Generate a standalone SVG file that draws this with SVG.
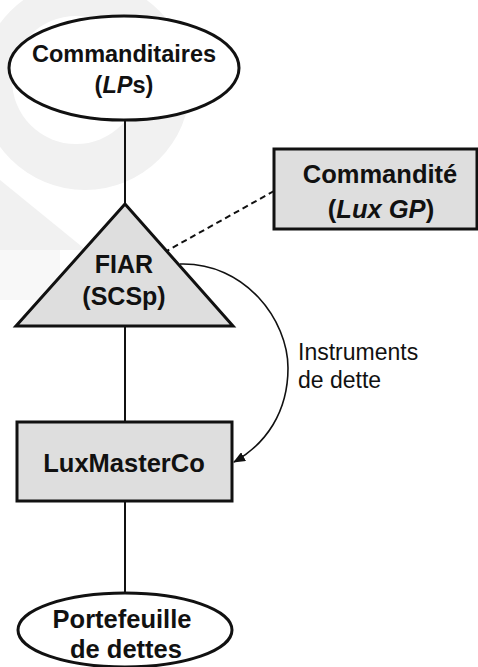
<svg xmlns="http://www.w3.org/2000/svg" width="478" height="667" viewBox="0 0 478 667">
  <style>
    .node { fill: #dedede; stroke: #111; stroke-width: 3; }
    .oval { fill: #fff; stroke: #111; stroke-width: 3; }
    .lbl { font-family: "Liberation Sans", Arial, sans-serif; font-weight: bold; fill: #111; text-anchor: middle; }
    .note { font-family: "Liberation Sans", Arial, sans-serif; fill: #111; font-size: 23px; }
    .link { stroke: #111; stroke-width: 2; fill: none; }
    .dash { stroke: #111; stroke-width: 2; fill: none; stroke-dasharray: 6 4; }
    .flow { stroke: #111; stroke-width: 1.6; fill: none; }
    .wm { fill: #f1f1f1; }
  </style>
  <defs>
    <marker id="arrow" viewBox="0 0 12 10" refX="11" refY="5" markerWidth="12" markerHeight="10" markerUnits="userSpaceOnUse" orient="auto">
      <path d="M0,0 L12,5 L0,10 z" fill="#111"/>
    </marker>
  </defs>
  <rect width="478" height="667" fill="#fff"/>

  <!-- faint background logo -->
  <g id="backdrop">
    <circle class="wm" cx="85" cy="85" r="105"/>
    <circle cx="76" cy="80" r="64" fill="#fff"/>
    <polygon class="wm" points="0,180 86,250 0,250"/>
    <rect x="0" y="250" width="60" height="50" fill="#f8f8f8"/>
  </g>

  <!-- connectors -->
  <g id="connectors">
    <line class="link" x1="125" y1="120" x2="125" y2="204"/>
    <line class="link" x1="125" y1="326" x2="125" y2="422"/>
    <line class="link" x1="125" y1="501" x2="125" y2="593"/>
    <line class="dash" x1="274" y1="191" x2="163" y2="253"/>
    <path class="flow" d="M180,264 C245,262 288,320 288,368 C288,412 266,444 234,462" marker-end="url(#arrow)"/>
    <text class="note" x="298" y="360">Instruments</text>
    <text class="note" x="298" y="388">de dette</text>
  </g>

  <g id="lps">
    <ellipse class="oval" cx="124" cy="68" rx="115" ry="52"/>
    <text class="lbl" x="124" y="62" font-size="23.5">Commanditaires</text>
    <text class="lbl" x="124" y="93" font-size="23.5">(<tspan font-style="italic">LP</tspan>s)</text>
  </g>

  <g id="gp">
    <rect class="node" x="274" y="149" width="203" height="80"/>
    <text class="lbl" x="380" y="183" font-size="25.5">Commandité</text>
    <text class="lbl" x="381" y="218" font-size="25.5">(<tspan font-style="italic">Lux GP</tspan>)</text>
  </g>

  <g id="fiar">
    <polygon class="node" points="125,204 16,326 233,326"/>
    <text class="lbl" x="124" y="273" font-size="25">FIAR</text>
    <text class="lbl" x="124" y="305" font-size="25">(SCSp)</text>
  </g>

  <g id="masterco">
    <rect class="node" x="17" y="422" width="215" height="79"/>
    <text class="lbl" x="124" y="472" font-size="25.5">LuxMasterCo</text>
  </g>

  <g id="portfolio">
    <ellipse class="oval" cx="125" cy="630" rx="107" ry="37"/>
    <text class="lbl" x="122" y="628" font-size="25.5">Portefeuille</text>
    <text class="lbl" x="126" y="658" font-size="25.5">de dettes</text>
  </g>
</svg>
